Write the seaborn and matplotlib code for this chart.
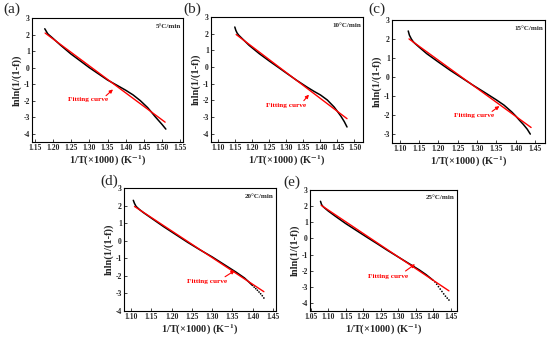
import numpy as np
import pandas as pd
import matplotlib
matplotlib.use("Agg")
import matplotlib.pyplot as plt
import seaborn as sns

sns.set_theme(style="ticks")
plt.rcParams['font.family'] = ['Liberation Serif', 'DejaVu Serif']
plt.rcParams['mathtext.fontset'] = 'stix'

# ---------------- data ----------------
labels = ["(a)", "(b)", "(c)", "(d)", "(e)"]
rates = ["5°C/min", "10°C/min", "15°C/min", "20°C/min", "25°C/min"]

a_x = [1.178, 1.182, 1.186, 1.19, 1.20, 1.22, 1.25, 1.28, 1.30, 1.32, 1.35, 1.38,
       1.40, 1.42, 1.44, 1.46, 1.47, 1.48, 1.49, 1.50, 1.51]
a_y = [2.35, 2.2, 2.05, 1.97, 1.78, 1.38, 0.82, 0.33, 0.0, -0.3, -0.75, -1.12,
       -1.37, -1.65, -2.0, -2.42, -2.68, -2.95, -3.2, -3.45, -3.72]
a_fit_x = [1.179, 1.508]
a_fit_y = [2.09, -3.30]

b_x = [1.148, 1.151, 1.155, 1.16, 1.17, 1.19, 1.22, 1.25, 1.28, 1.30, 1.33, 1.36,
       1.38, 1.40, 1.42, 1.44, 1.45, 1.46, 1.47, 1.478]
b_y = [2.4, 2.2, 2.03, 1.9, 1.7, 1.3, 0.8, 0.35, -0.08, -0.37, -0.8, -1.2,
       -1.45, -1.68, -1.98, -2.4, -2.67, -2.95, -3.28, -3.6]
b_fit_x = [1.152, 1.478]
b_fit_y = [1.95, -3.10]

c_x = [1.122, 1.125, 1.13, 1.135, 1.14, 1.15, 1.17, 1.20, 1.23, 1.26, 1.29, 1.32,
       1.35, 1.37, 1.39, 1.40, 1.41, 1.42, 1.43, 1.438]
c_y = [2.42, 2.2, 2.0, 1.85, 1.75, 1.57, 1.22, 0.78, 0.35, -0.05, -0.45, -0.83,
       -1.22, -1.5, -1.86, -2.07, -2.3, -2.52, -2.77, -3.03]
c_fit_x = [1.124, 1.440]
c_fit_y = [2.00, -2.68]

d_x = [1.105, 1.108, 1.112, 1.12, 1.13, 1.15, 1.18, 1.21, 1.24, 1.27, 1.30, 1.33,
       1.36, 1.38, 1.39, 1.40]
d_y = [2.3, 2.12, 1.95, 1.78, 1.6, 1.28, 0.8, 0.35, -0.1, -0.52, -0.92, -1.36,
       -1.8, -2.12, -2.33, -2.55]
d_tail_x = [1.404, 1.408, 1.412, 1.416, 1.420, 1.424, 1.428]
d_tail_y = [-2.64, -2.73, -2.82, -2.92, -3.02, -3.13, -3.26]
d_fit_x = [1.108, 1.428]
d_fit_y = [1.95, -2.90]

e_x = [1.078, 1.081, 1.085, 1.09, 1.10, 1.12, 1.15, 1.18, 1.21, 1.24, 1.27, 1.30,
       1.33, 1.36, 1.38, 1.40]
e_y = [2.3, 2.1, 1.98, 1.88, 1.7, 1.38, 0.92, 0.5, 0.08, -0.33, -0.75, -1.15,
       -1.55, -1.95, -2.25, -2.6]
e_tail_x = [1.405, 1.410, 1.415, 1.420, 1.425, 1.430, 1.435, 1.440, 1.445]
e_tail_y = [-2.70, -2.84, -2.99, -3.14, -3.29, -3.44, -3.58, -3.70, -3.82]
e_fit_x = [1.080, 1.445]
e_fit_y = [2.05, -3.25]

xlims = [(1.143, 1.557), (1.078, 1.525), (1.08, 1.476), (1.082, 1.458), (1.048, 1.468)]
ylims = [(-4.5, 3), (-4.5, 3), (-3.5, 3), (-4, 3), (-4.5, 3)]
xtick_lo = [1.15, 1.10, 1.10, 1.10, 1.05]
xtick_hi = [1.55, 1.50, 1.45, 1.45, 1.45]

# annotation: text centre and arrow (tail -> head) in data coords
text_xy = [(1.296, -1.93), (1.298, -2.34), (1.293, -2.07), (1.288, -2.34), (1.272, -2.35)]
arrow_from = [(1.346, -1.70), (1.351, -2.02), (1.339, -1.83), (1.332, -2.05), (1.321, -2.02)]
arrow_to = [(1.365, -1.32), (1.366, -1.66), (1.358, -1.55), (1.356, -1.70), (1.348, -1.60)]

curves = [(a_x, a_y), (b_x, b_y), (c_x, c_y), (d_x, d_y), (e_x, e_y)]
tails = [None, None, None, (d_tail_x, d_tail_y), (e_tail_x, e_tail_y)]
fits = [(a_fit_x, a_fit_y), (b_fit_x, b_fit_y), (c_fit_x, c_fit_y),
        (d_fit_x, d_fit_y), (e_fit_x, e_fit_y)]

# ---------------- layout (pixel boxes: left, top, right, bottom) ----------------
W, H = 550, 339
boxes = [(32, 18, 183, 142), (211, 17, 363, 142), (392, 20, 545, 143),
         (124, 188, 276, 311), (310, 190, 457, 311)]
label_pos = [(3, 3), (183, 3), (368, 3), (100, 175), (283, 176)]

fig = plt.figure(figsize=(W / 100, H / 100), dpi=100)

for i in range(5):
    l, t, r, b = boxes[i]
    ax = fig.add_axes([l / W, 1 - b / H, (r - l) / W, (b - t) / H])
    cx, cy = curves[i]
    sns.lineplot(x=cx, y=cy, ax=ax, color="black", lw=1.1, sort=False,
                 estimator=None)
    if tails[i] is not None:
        tx, ty = tails[i]
        sns.scatterplot(x=tx, y=ty, ax=ax, color="black", s=1.5,
                        edgecolor="none")
    fx, fy = fits[i]
    sns.lineplot(x=fx, y=fy, ax=ax, color="red", lw=1.0, estimator=None)

    ax.set_xlim(*xlims[i])
    ax.set_ylim(*ylims[i])
    n = int(round((xtick_hi[i] - xtick_lo[i]) / 0.05)) + 1
    xt = [round(xtick_lo[i] + 0.05 * k, 2) for k in range(n)]
    ax.set_xticks(xt)
    ax.set_xticklabels([f"{v:.2f}" for v in xt])
    yt = list(range(int(np.ceil(ylims[i][0])), 4))
    ax.set_yticks(yt)
    ax.set_yticklabels([str(v) for v in yt])
    ax.tick_params(direction="in", length=2, width=0.6, pad=1.5,
                   labelsize=5.5)
    for lab in ax.get_xticklabels() + ax.get_yticklabels():
        lab.set_fontweight("bold")
    for sp in ax.spines.values():
        sp.set_visible(True)
        sp.set_linewidth(0.8)
        sp.set_color("black")

    ax.set_xlabel(r"1/T(×1000) (K$^{\mathbf{-1}}$)", fontsize=7.5,
                  fontweight="bold", labelpad=1)
    ax.set_ylabel("lnln(1/(1-f))", fontsize=7.5, fontweight="bold",
                  labelpad=1.5)

    ax.text(0.985, 0.955, rates[i], transform=ax.transAxes, ha="right",
            va="top", fontsize=5, fontweight="bold")

    ax.annotate("", xy=arrow_to[i], xytext=arrow_from[i],
                arrowprops=dict(arrowstyle="-|>", color="red", lw=0.8,
                                mutation_scale=5, shrinkA=0, shrinkB=0))
    ax.text(text_xy[i][0], text_xy[i][1], "Fitting curve", color="red",
            fontsize=5.2, fontweight="bold", ha="center", va="center")

    fig.text(label_pos[i][0] / W, 1 - label_pos[i][1] / H, labels[i],
             fontsize=11, ha="left", va="top")

fig.savefig("out.png", dpi=100)
